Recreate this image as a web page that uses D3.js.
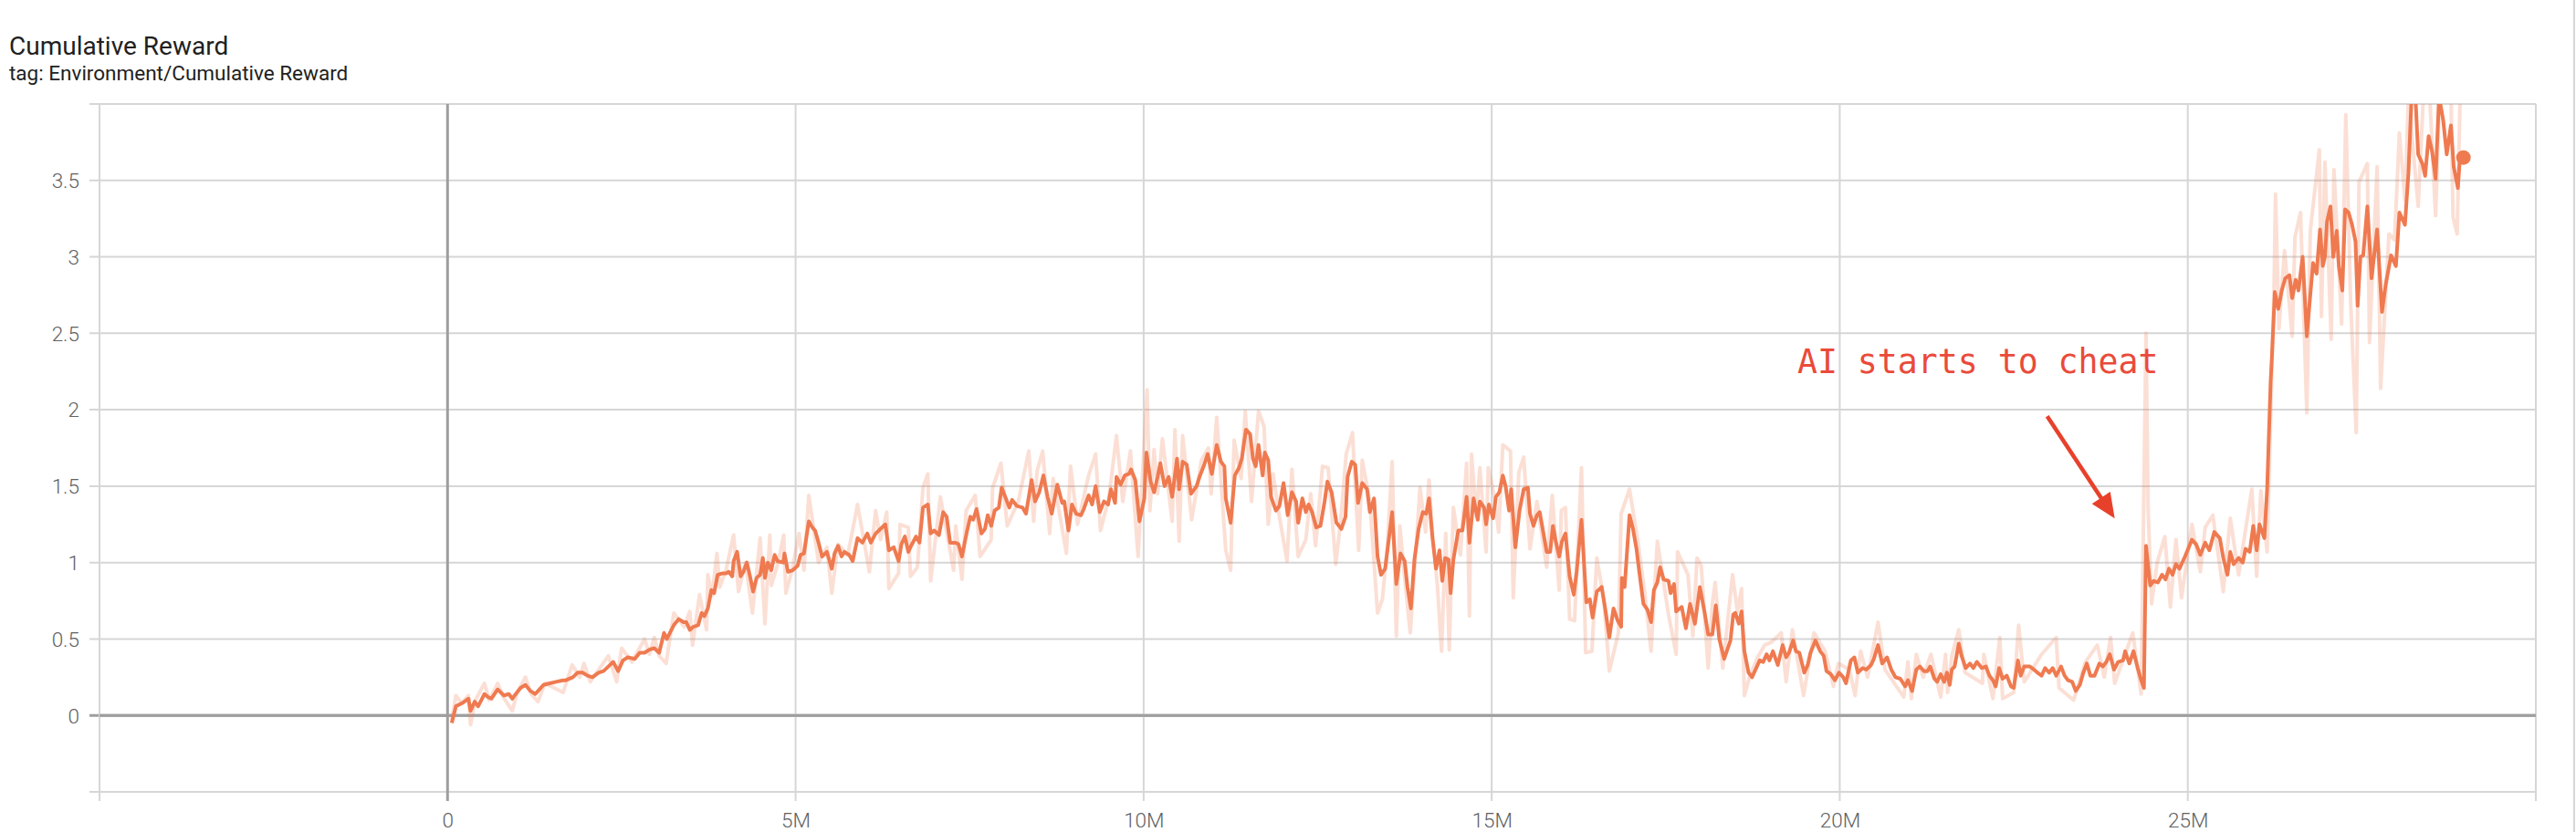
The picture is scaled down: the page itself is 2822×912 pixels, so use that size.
<!DOCTYPE html>
<html>
<head>
<meta charset="utf-8">
<script src="https://cdn.jsdelivr.net/npm/d3@7"></script>
<style>
  html, body { margin: 0; padding: 0; background: #fff; }
  svg { display: block; }
  .tick-label { font-family: Roboto, 'Liberation Sans', sans-serif; font-weight: 300; font-size: 22.5px; fill: #616161; }
</style>
</head>
<body>
<svg id="chart"></svg>
<script>
// tick values (steps in millions, reward)
const xTicks = [-5, 0, 5, 10, 15, 20, 25, 30]
const xLabels = ['', '0', '5M', '10M', '15M', '20M', '25M', '']
const yTicks = [-0.5, 0, 0.5, 1, 1.5, 2, 2.5, 3, 3.5, 4]
const yLabels = ['', '0', '0.5', '1', '1.5', '2', '2.5', '3', '3.5', '']

// smoothed cumulative reward [step (M), value]
const smoothed = [
  [0.06,-0.05],[0.12,0.06],[0.21,0.08],[0.30,0.11],[0.33,0.03],[0.39,0.09],[0.44,0.06],[0.53,0.14],[0.58,0.12],[0.63,0.11],
  [0.72,0.17],[0.81,0.13],[0.88,0.14],[0.93,0.11],[0.98,0.14],[1.05,0.18],[1.12,0.20],[1.19,0.16],[1.26,0.14],[1.38,0.20],
  [1.47,0.21],[1.56,0.22],[1.66,0.23],[1.70,0.23],[1.80,0.25],[1.87,0.28],[1.94,0.28],[2.01,0.26],[2.08,0.25],[2.17,0.28],
  [2.24,0.29],[2.31,0.32],[2.38,0.35],[2.45,0.29],[2.52,0.36],[2.59,0.38],[2.69,0.37],[2.76,0.41],[2.83,0.41],[2.90,0.43],
  [2.97,0.44],[3.04,0.41],[3.11,0.54],[3.15,0.50],[3.25,0.59],[3.32,0.63],[3.39,0.61],[3.43,0.61],[3.48,0.56],[3.53,0.58],
  [3.60,0.59],[3.65,0.67],[3.69,0.65],[3.74,0.70],[3.79,0.82],[3.83,0.80],[3.88,0.92],[3.95,0.93],[4.00,0.93],[4.04,0.94],
  [4.09,0.91],[4.11,1.01],[4.16,1.07],[4.21,0.91],[4.25,0.94],[4.30,1.00],[4.35,0.90],[4.39,0.81],[4.44,0.90],[4.49,0.92],
  [4.53,1.03],[4.56,0.90],[4.60,1.00],[4.65,0.95],[4.70,1.05],[4.74,1.01],[4.82,1.00],[4.84,1.06],[4.89,0.94],[4.96,0.95],
  [5.03,0.98],[5.07,1.05],[5.12,1.06],[5.19,1.27],[5.24,1.23],[5.28,1.21],[5.33,1.13],[5.38,1.04],[5.45,1.07],[5.52,0.96],
  [5.56,1.06],[5.61,1.11],[5.66,1.04],[5.70,1.07],[5.77,1.05],[5.82,1.01],[5.89,1.16],[5.96,1.13],[6.03,1.19],[6.08,1.13],
  [6.15,1.19],[6.22,1.22],[6.29,1.25],[6.34,1.08],[6.41,1.10],[6.48,1.01],[6.52,1.12],[6.57,1.17],[6.62,1.07],[6.66,1.11],
  [6.73,1.17],[6.78,1.13],[6.83,1.36],[6.90,1.38],[6.94,1.19],[6.99,1.21],[7.06,1.18],[7.12,1.33],[7.17,1.30],[7.22,1.13],
  [7.30,1.13],[7.34,1.12],[7.39,1.04],[7.46,1.20],[7.51,1.30],[7.55,1.28],[7.60,1.35],[7.67,1.19],[7.72,1.22],[7.76,1.31],
  [7.81,1.24],[7.86,1.34],[7.92,1.36],[7.96,1.49],[8.02,1.42],[8.07,1.36],[8.11,1.41],[8.18,1.37],[8.26,1.36],[8.31,1.32],
  [8.39,1.54],[8.44,1.40],[8.50,1.46],[8.56,1.57],[8.62,1.43],[8.68,1.32],[8.76,1.51],[8.83,1.39],[8.86,1.40],[8.92,1.21],
  [8.97,1.38],[9.03,1.32],[9.10,1.31],[9.14,1.35],[9.21,1.44],[9.26,1.38],[9.31,1.50],[9.37,1.33],[9.43,1.40],[9.49,1.38],
  [9.53,1.48],[9.59,1.39],[9.61,1.56],[9.67,1.51],[9.73,1.57],[9.79,1.58],[9.82,1.61],[9.88,1.54],[9.94,1.27],[10.01,1.42],
  [10.04,1.72],[10.10,1.53],[10.15,1.46],[10.20,1.56],[10.24,1.65],[10.30,1.50],[10.36,1.56],[10.41,1.43],[10.48,1.68],[10.51,1.48],
  [10.56,1.66],[10.62,1.64],[10.68,1.45],[10.76,1.50],[10.81,1.57],[10.87,1.64],[10.92,1.71],[10.98,1.58],[11.05,1.77],[11.11,1.66],
  [11.16,1.63],[11.18,1.42],[11.25,1.26],[11.31,1.57],[11.37,1.62],[11.41,1.68],[11.47,1.87],[11.53,1.84],[11.57,1.68],[11.61,1.63],
  [11.65,1.77],[11.71,1.57],[11.74,1.72],[11.79,1.67],[11.83,1.43],[11.90,1.34],[11.95,1.37],[12.01,1.52],[12.07,1.31],[12.13,1.46],
  [12.19,1.40],[12.22,1.26],[12.28,1.42],[12.33,1.33],[12.37,1.38],[12.42,1.33],[12.48,1.23],[12.54,1.24],[12.60,1.40],[12.64,1.53],
  [12.70,1.46],[12.77,1.26],[12.84,1.22],[12.90,1.30],[12.93,1.56],[12.99,1.66],[13.04,1.64],[13.08,1.39],[13.14,1.52],[13.21,1.48],
  [13.25,1.33],[13.31,1.42],[13.36,1.04],[13.41,0.92],[13.47,0.96],[13.57,1.33],[13.63,0.86],[13.69,1.06],[13.75,1.01],[13.79,0.84],
  [13.84,0.70],[13.89,1.02],[13.95,1.22],[14.01,1.33],[14.06,1.32],[14.10,1.42],[14.15,1.16],[14.20,0.96],[14.25,1.08],[14.29,0.88],
  [14.33,1.03],[14.38,1.02],[14.41,0.80],[14.45,1.02],[14.52,1.21],[14.58,1.21],[14.64,1.43],[14.68,1.13],[14.74,1.42],[14.80,1.28],
  [14.83,1.40],[14.89,1.36],[14.92,1.25],[14.96,1.38],[15.02,1.29],[15.06,1.43],[15.11,1.46],[15.16,1.57],[15.20,1.50],[15.25,1.34],
  [15.28,1.48],[15.34,1.10],[15.40,1.34],[15.46,1.48],[15.52,1.49],[15.55,1.32],[15.60,1.24],[15.65,1.31],[15.69,1.33],[15.74,1.20],
  [15.79,1.07],[15.84,1.07],[15.88,1.24],[15.92,1.14],[15.97,1.04],[16.01,1.14],[16.06,1.19],[16.12,0.91],[16.18,0.79],[16.22,0.94],
  [16.29,1.28],[16.36,0.74],[16.41,0.76],[16.45,0.64],[16.51,0.81],[16.58,0.84],[16.63,0.70],[16.69,0.51],[16.75,0.70],[16.81,0.62],
  [16.86,0.58],[16.87,0.90],[16.91,0.84],[16.98,1.31],[17.03,1.22],[17.08,1.09],[17.12,0.94],[17.18,0.73],[17.24,0.69],[17.29,0.61],
  [17.33,0.82],[17.38,0.87],[17.42,0.97],[17.47,0.89],[17.54,0.88],[17.57,0.80],[17.62,0.86],[17.65,0.68],[17.73,0.71],[17.79,0.57],
  [17.85,0.73],[17.92,0.60],[17.99,0.84],[18.06,0.67],[18.11,0.53],[18.17,0.53],[18.22,0.72],[18.27,0.50],[18.34,0.37],[18.43,0.49],
  [18.47,0.66],[18.50,0.67],[18.55,0.60],[18.59,0.68],[18.63,0.42],[18.69,0.28],[18.74,0.25],[18.81,0.32],[18.85,0.36],[18.90,0.35],
  [18.95,0.40],[18.99,0.36],[19.04,0.42],[19.11,0.33],[19.18,0.46],[19.23,0.38],[19.27,0.41],[19.33,0.49],[19.37,0.42],[19.42,0.41],
  [19.49,0.28],[19.54,0.33],[19.58,0.41],[19.65,0.49],[19.72,0.42],[19.77,0.39],[19.81,0.29],[19.87,0.27],[19.93,0.23],[19.99,0.28],
  [20.05,0.25],[20.09,0.21],[20.16,0.36],[20.21,0.38],[20.26,0.28],[20.33,0.31],[20.38,0.30],[20.45,0.33],[20.49,0.37],[20.55,0.46],
  [20.61,0.34],[20.68,0.38],[20.74,0.30],[20.80,0.25],[20.87,0.24],[20.94,0.19],[20.98,0.23],[21.04,0.16],[21.10,0.30],[21.15,0.32],
  [21.21,0.29],[21.26,0.29],[21.30,0.32],[21.36,0.24],[21.40,0.22],[21.45,0.27],[21.50,0.22],[21.54,0.28],[21.58,0.20],[21.61,0.30],
  [21.65,0.32],[21.71,0.47],[21.75,0.39],[21.81,0.31],[21.87,0.34],[21.92,0.31],[21.97,0.35],[22.04,0.31],[22.10,0.32],[22.15,0.26],
  [22.20,0.23],[22.24,0.19],[22.29,0.31],[22.34,0.24],[22.40,0.26],[22.46,0.19],[22.50,0.18],[22.56,0.36],[22.60,0.26],[22.65,0.32],
  [22.73,0.32],[22.79,0.30],[22.84,0.28],[22.90,0.26],[22.95,0.31],[23.01,0.28],[23.06,0.31],[23.11,0.26],[23.18,0.32],[23.23,0.26],
  [23.28,0.23],[23.34,0.22],[23.39,0.16],[23.45,0.20],[23.50,0.28],[23.55,0.34],[23.60,0.26],[23.66,0.26],[23.73,0.34],[23.78,0.32],
  [23.83,0.35],[23.88,0.40],[23.94,0.30],[24.00,0.35],[24.07,0.36],[24.10,0.42],[24.16,0.34],[24.22,0.42],[24.28,0.31],[24.33,0.23],
  [24.37,0.18],[24.40,1.11],[24.46,0.85],[24.51,0.88],[24.57,0.87],[24.63,0.92],[24.68,0.89],[24.73,0.96],[24.78,0.92],[24.83,0.99],
  [24.88,0.96],[24.96,1.04],[25.06,1.15],[25.12,1.12],[25.18,1.05],[25.25,1.13],[25.31,1.08],[25.38,1.20],[25.46,1.16],[25.51,1.03],
  [25.57,0.92],[25.61,1.07],[25.66,0.99],[25.73,1.03],[25.79,1.00],[25.83,1.09],[25.89,1.07],[25.94,1.24],[25.99,1.08],[26.03,1.25],
  [26.10,1.16],[26.14,1.48],[26.19,2.18],[26.21,2.36],[26.25,2.77],[26.30,2.66],[26.35,2.78],[26.40,2.86],[26.46,2.88],[26.50,2.73],
  [26.55,2.85],[26.59,2.78],[26.65,3.00],[26.71,2.48],[26.75,2.70],[26.80,2.96],[26.85,2.89],[26.90,3.18],[26.94,2.94],[26.97,3.00],
  [27.00,3.23],[27.05,3.33],[27.09,3.00],[27.14,3.17],[27.17,2.94],[27.22,2.78],[27.26,3.31],[27.31,3.29],[27.36,3.21],[27.41,3.10],
  [27.44,2.68],[27.48,3.00],[27.52,3.01],[27.58,3.33],[27.64,2.86],[27.72,3.18],[27.79,2.64],[27.84,2.81],[27.92,3.01],[27.99,2.94],
  [28.04,3.29],[28.12,3.21],[28.17,3.55],[28.22,4.10],[28.27,4.05],[28.31,3.67],[28.37,3.61],[28.41,3.53],[28.46,3.79],[28.51,3.69],
  [28.56,3.51],[28.61,4.05],[28.67,3.89],[28.72,3.67],[28.78,3.86],[28.82,3.59],[28.88,3.45],[28.91,3.65],[28.96,3.65]
]

// raw (unsmoothed) cumulative reward [step (M), value]
const raw = [
  [0.06,-0.03],[0.12,0.13],[0.20,0.08],[0.30,0.13],[0.33,-0.06],[0.40,0.10],[0.53,0.21],[0.60,0.10],[0.72,0.21],[0.80,0.12],
  [0.93,0.03],[1.00,0.15],[1.12,0.25],[1.20,0.14],[1.30,0.09],[1.40,0.21],[1.66,0.15],[1.79,0.33],[1.90,0.25],[1.96,0.34],
  [2.05,0.22],[2.31,0.39],[2.43,0.22],[2.50,0.44],[2.65,0.35],[2.83,0.50],[2.90,0.40],[2.97,0.51],[3.04,0.39],[3.14,0.34],
  [3.25,0.67],[3.40,0.58],[3.48,0.68],[3.52,0.46],[3.62,0.79],[3.72,0.56],[3.74,0.92],[3.80,0.78],[3.87,1.06],[3.91,0.84],
  [4.00,0.95],[4.11,1.18],[4.18,0.81],[4.28,1.00],[4.38,0.67],[4.49,1.16],[4.56,0.60],[4.63,1.18],[4.65,0.85],[4.75,1.00],
  [4.83,1.18],[4.86,0.80],[4.95,0.95],[5.05,1.19],[5.12,0.95],[5.19,1.44],[5.33,1.00],[5.45,1.10],[5.52,0.80],[5.61,1.12],
  [5.75,1.05],[5.89,1.38],[6.06,0.94],[6.15,1.34],[6.22,1.15],[6.31,1.33],[6.34,0.83],[6.48,0.93],[6.50,1.25],[6.62,1.23],
  [6.65,0.91],[6.75,0.97],[6.83,1.49],[6.90,1.58],[6.94,0.88],[7.08,1.43],[7.27,0.95],[7.30,1.24],[7.39,0.89],[7.45,1.34],
  [7.58,1.44],[7.65,1.04],[7.81,1.15],[7.83,1.49],[7.95,1.65],[8.04,1.24],[8.20,1.40],[8.35,1.73],[8.42,1.27],[8.47,1.60],
  [8.55,1.73],[8.65,1.19],[8.70,1.55],[8.80,1.30],[8.89,1.06],[8.95,1.63],[9.05,1.25],[9.21,1.57],[9.31,1.71],[9.38,1.21],
  [9.50,1.42],[9.61,1.83],[9.70,1.40],[9.81,1.73],[9.92,1.04],[10.05,2.13],[10.09,1.34],[10.15,1.74],[10.20,1.45],[10.27,1.81],
  [10.41,1.27],[10.45,1.87],[10.51,1.14],[10.56,1.83],[10.69,1.28],[10.83,1.67],[10.93,1.75],[10.97,1.45],[11.05,1.95],[11.18,1.08],
  [11.25,0.95],[11.30,1.80],[11.40,1.55],[11.46,1.99],[11.55,1.40],[11.65,1.99],[11.73,1.89],[11.79,1.25],[11.86,1.58],[11.95,1.30],
  [12.06,1.01],[12.13,1.61],[12.22,1.04],[12.33,1.15],[12.40,1.45],[12.47,1.11],[12.57,1.63],[12.65,1.62],[12.76,0.99],[12.83,1.27],
  [12.91,1.71],[13.00,1.85],[13.09,1.08],[13.14,1.67],[13.25,1.40],[13.36,0.67],[13.43,0.76],[13.50,1.10],[13.57,1.66],[13.63,0.52],
  [13.68,1.24],[13.75,0.90],[13.83,0.54],[13.90,1.00],[13.97,1.49],[14.05,1.20],[14.10,1.54],[14.15,1.19],[14.22,0.85],[14.28,0.42],
  [14.34,1.19],[14.39,0.43],[14.45,1.36],[14.55,1.05],[14.64,1.65],[14.68,0.65],[14.71,1.71],[14.78,1.30],[14.83,1.62],[14.92,1.07],
  [14.95,1.62],[15.04,1.43],[15.10,1.20],[15.16,1.77],[15.27,1.73],[15.31,0.77],[15.39,1.59],[15.46,1.69],[15.55,1.09],[15.65,1.40],
  [15.79,0.97],[15.87,1.44],[15.97,0.82],[16.00,1.34],[16.06,1.36],[16.12,0.63],[16.19,0.62],[16.29,1.62],[16.35,0.41],[16.44,0.42],
  [16.51,1.03],[16.61,0.76],[16.69,0.29],[16.82,0.54],[16.86,1.32],[16.98,1.48],[17.10,1.14],[17.20,0.80],[17.29,0.42],[17.38,1.14],
  [17.46,0.90],[17.54,0.66],[17.65,0.40],[17.67,1.07],[17.82,0.92],[17.89,0.52],[17.95,1.03],[18.01,0.98],[18.11,0.31],[18.17,0.73],
  [18.21,0.87],[18.32,0.31],[18.46,0.92],[18.53,0.68],[18.59,0.83],[18.63,0.13],[18.71,0.26],[18.82,0.38],[18.92,0.46],[19.02,0.48],
  [19.16,0.54],[19.23,0.22],[19.32,0.56],[19.40,0.35],[19.48,0.13],[19.63,0.54],[19.79,0.42],[19.91,0.19],[19.98,0.34],[20.14,0.30],
  [20.22,0.13],[20.30,0.42],[20.40,0.25],[20.55,0.61],[20.65,0.30],[20.77,0.22],[20.92,0.12],[20.98,0.35],[21.03,0.11],[21.10,0.40],
  [21.20,0.25],[21.31,0.40],[21.45,0.12],[21.52,0.40],[21.55,0.15],[21.61,0.39],[21.71,0.56],[21.80,0.28],[22.05,0.21],[22.07,0.40],
  [22.20,0.11],[22.30,0.51],[22.34,0.11],[22.50,0.15],[22.57,0.59],[22.65,0.22],[22.90,0.40],[23.11,0.51],[23.15,0.18],[23.36,0.10],
  [23.53,0.35],[23.70,0.46],[23.80,0.25],[23.89,0.51],[23.95,0.21],[24.21,0.54],[24.33,0.14],[24.40,2.50],[24.43,1.35],[24.48,0.73],
  [24.56,1.00],[24.67,1.17],[24.75,0.71],[24.83,1.15],[24.91,0.77],[25.06,1.25],[25.18,0.94],[25.25,1.23],[25.36,1.31],[25.51,0.81],
  [25.61,1.29],[25.73,0.92],[25.92,1.48],[25.99,0.91],[26.05,1.47],[26.14,1.07],[26.24,2.81],[26.26,3.41],[26.31,2.53],[26.39,3.04],
  [26.50,2.48],[26.54,3.13],[26.62,3.29],[26.71,1.98],[26.76,3.17],[26.89,3.70],[26.92,2.61],[26.97,3.62],[27.06,2.46],[27.10,3.57],
  [27.21,2.56],[27.27,3.93],[27.34,2.70],[27.42,1.85],[27.46,3.49],[27.58,3.61],[27.61,2.44],[27.72,3.59],[27.77,2.14],[27.89,3.15],
  [27.97,3.11],[28.04,3.81],[28.12,3.37],[28.17,4.05],[28.31,3.33],[28.39,4.10],[28.47,4.10],[28.56,3.27],[28.62,4.10],[28.78,4.10],
  [28.81,3.26],[28.87,3.15],[28.91,4.00]
]

// annotation: text anchor and arrow (start, tip) in data units
const noteText = 'AI starts to cheat'
const notePos = [19.39, 2.237]
const arrowFrom = [22.98, 1.957]
const arrowTo = [23.95, 1.289]

const W = 2822, H = 912
const plot = {left: 109, right: 2778, top: 114, bottom: 868}
const lineColor = '#ef7a50'
const noteColor = '#ea4a3a'

let svg = d3.select('#chart').attr('width', W).attr('height', H)

let x = d3.scaleLinear().domain([-5, 30]).range([plot.left, plot.right])
let y = d3.scaleLinear().domain([-0.5, 4]).range([plot.bottom, plot.top])

// titles
svg.append('text')
    .attr('x', 10).attr('y', 60)
    .style('font-family', 'Roboto, sans-serif')
    .style('font-size', '28px')
    .style('fill', '#212121')
    .text('Cumulative Reward')

svg.append('text')
    .attr('x', 10).attr('y', 88)
    .style('font-family', 'Roboto, sans-serif')
    .style('font-size', '22.5px')
    .style('fill', '#212121')
    .text('tag: Environment/Cumulative Reward')

// horizontal grid lines with small stubs on the left
svg.append('g').selectAll('line')
    .data(yTicks)
    .enter().append('line')
    .attr('x1', plot.left - 11)
    .attr('x2', plot.right)
    .attr('y1', d => y(d))
    .attr('y2', d => y(d))
    .style('stroke', d => d === 0 ? '#9e9e9e' : '#d6d6d6')
    .style('stroke-width', d => d === 0 ? 3 : 2)

// vertical grid lines with small stubs at the bottom
svg.append('g').selectAll('line')
    .data(xTicks)
    .enter().append('line')
    .attr('x1', d => x(d))
    .attr('x2', d => x(d))
    .attr('y1', plot.top)
    .attr('y2', plot.bottom + 10)
    .style('stroke', d => d === 0 ? '#9e9e9e' : '#d6d6d6')
    .style('stroke-width', d => d === 0 ? 3 : 2)

// redraw the zero line on top of vertical grid
svg.append('line')
    .attr('x1', plot.left).attr('x2', plot.right)
    .attr('y1', y(0)).attr('y2', y(0))
    .style('stroke', '#9e9e9e').style('stroke-width', 3)

// outer frame line at the right edge of the card
svg.append('line')
    .attr('x1', W - 2).attr('x2', W - 2)
    .attr('y1', 0).attr('y2', H)
    .style('stroke', '#d6d6d6').style('stroke-width', 2)

// axis labels
let yAxis = d3.axisLeft(y).tickValues(yTicks)
    .tickFormat((d, i) => yLabels[i]).tickSize(0).tickPadding(0)
svg.append('g')
    .attr('transform', `translate(${plot.left - 22},0)`)
    .call(yAxis)
    .call(g => g.select('.domain').remove())
    .selectAll('text').attr('class', 'tick-label').attr('dy', '0.35em')

let xAxis = d3.axisBottom(x).tickValues(xTicks)
    .tickFormat((d, i) => xLabels[i]).tickSize(0).tickPadding(0)
svg.append('g')
    .attr('transform', `translate(0,${plot.bottom + 22})`)
    .call(xAxis)
    .call(g => g.select('.domain').remove())
    .selectAll('text').attr('class', 'tick-label').attr('dy', '0.75em')

// clip lines to the plot area
svg.append('clipPath').attr('id', 'plot-clip')
    .append('rect')
    .attr('x', plot.left).attr('y', plot.top)
    .attr('width', plot.right - plot.left)
    .attr('height', plot.bottom - plot.top)

let line = d3.line().x(d => x(d[0])).y(d => y(d[1]))

let lines = svg.append('g').attr('clip-path', 'url(#plot-clip)')

lines.append('path')
    .datum(raw)
    .attr('d', line)
    .style('fill', 'none')
    .style('stroke', lineColor)
    .style('stroke-opacity', 0.24)
    .style('stroke-width', 4)
    .style('stroke-linejoin', 'round')

lines.append('path')
    .datum(smoothed)
    .attr('d', line)
    .style('fill', 'none')
    .style('stroke', lineColor)
    .style('stroke-width', 4)
    .style('stroke-linejoin', 'round')

let last = smoothed[smoothed.length - 1]
svg.append('circle')
    .attr('cx', x(last[0]))
    .attr('cy', y(last[1]))
    .attr('r', 8)
    .style('fill', lineColor)

// annotation
svg.append('text')
    .attr('x', x(notePos[0]))
    .attr('y', y(notePos[1]))
    .style('font-family', "'DejaVu Sans Mono', 'Liberation Mono', monospace")
    .style('font-size', '36.5px')
    .style('fill', noteColor)
    .text(noteText)

let ax0 = x(arrowFrom[0]), ay0 = y(arrowFrom[1])
let ax1 = x(arrowTo[0]), ay1 = y(arrowTo[1])
let len = Math.hypot(ax1 - ax0, ay1 - ay0)
let ux = (ax1 - ax0) / len, uy = (ay1 - ay0) / len
let headLen = 27, headHalf = 12

svg.append('line')
    .attr('x1', ax0).attr('y1', ay0)
    .attr('x2', ax1 - ux * headLen * 0.8).attr('y2', ay1 - uy * headLen * 0.8)
    .style('stroke', '#e8412b')
    .style('stroke-width', 4.5)

let bx = ax1 - ux * headLen, by = ay1 - uy * headLen
svg.append('polygon')
    .attr('points', [
        [ax1, ay1],
        [bx - uy * headHalf, by + ux * headHalf],
        [bx + uy * headHalf, by - ux * headHalf]
    ].map(p => p.join(',')).join(' '))
    .style('fill', '#e8412b')
</script>
</body>
</html>
